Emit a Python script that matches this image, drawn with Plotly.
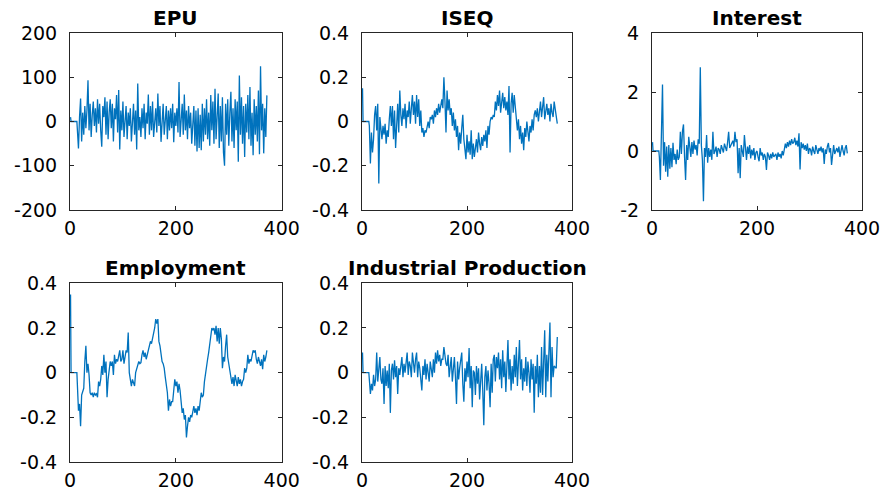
import plotly.graph_objects as go

# time index: first observation, a flat stretch, then every second observation
t_index = [1, 2, 13] + list(range(14, 373, 2))

epu = [10, 0, 0,
       -27, -61, 10, 52, -45, 20, -30, 35, -15, 25,
       93, -20, 40, -35, 15, 45, -10, 30, -25, 50,
       -5, 40, -20, -57, 35, 10, 55, -30, 45, -40,
       20, 50, -15, 40, -45, 30, 5, 60, -25, 71,
       -63, 25, -20, 45, -35, 10, 35, -40, 20, -10,
       30, -45, 15, 40, -30, 25, -63, 86, -20, 10,
       -35, 30, -15, 40, -40, 20, -5, 61, -30, 35,
       -20, 45, -35, 15, 30, -25, 63, -10, 35, -46,
       20, 40, -30, 10, 35, -40, 25, -20, 30, -15,
       40, -47, 20, -10, 30, -25, 89, -35, 15, 40,
       -30, 61, -20, 25, -40, 35, -15, 20, -50, 10,
       35, -55, 25, -68, 30, -60, 15, -65, 40, -45,
       30, -30, 50, -40, 20, -55, 60, -20, 45, -50,
       74, -40, 25, 63, -60, 35, -45, 55, -70, -100,
       40, -30, 50, -55, 20, 67, -45, 30, -60, 50,
       -20, 45, -91, 104, -30, 55, -50, 35, -80, 40,
       -25, 60, -40, 78, -55, 20, -76, 50, -30, 35,
       -45, 70, -74, 125, -20, 40, -72, 30, -35, 59]

iseq = [0.15, 0, 0,
        -0.02, -0.19, -0.05, -0.14, -0.08, 0.03, 0.07, -0.04, 0.08, -0.28,
        0.02, -0.03, -0.08, -0.02, -0.06, -0.01, -0.10, -0.04, -0.07, 0.01,
        0.07, -0.02, 0.07, -0.08, 0.05, -0.12, 0.03, 0.08, -0.05, 0.14,
        0.03, -0.02, 0.06, 0.01, 0.08, -0.03, 0.05, 0.02, 0.09, -0.01,
        0.06, 0.12, 0.03, 0.09, -0.01, 0.12, 0.02, 0.10, -0.02, 0.05,
        -0.05, -0.03, -0.07, -0.04, -0.05, -0.02, 0.00, -0.03, 0.02, 0.01,
        0.03, -0.01, 0.05, 0.02, 0.06, 0.03, 0.08, 0.04, 0.07, 0.10,
        0.06, 0.20, 0.09, -0.05, 0.14, 0.05, 0.10, 0.03, 0.06, -0.02,
        0.04, -0.04, 0.01, -0.07, -0.02, -0.13, -0.05, -0.10, -0.03, 0.03,
        -0.08, -0.12, -0.17, -0.06, -0.14, -0.09, -0.15, -0.04, -0.17, -0.10,
        -0.16, -0.12, -0.08, -0.14, -0.05, -0.10, -0.13, -0.07, -0.11, -0.06,
        -0.09, -0.04, -0.12, -0.02, -0.06, 0.00, 0.02, 0.01, 0.03, 0.02,
        0.09, 0.05, 0.12, 0.07, 0.14, 0.04, 0.10, 0.13, 0.06, 0.11,
        0.05, 0.09, 0.03, 0.16, -0.14, 0.08, 0.13, 0.04, 0.12, 0.07,
        0.02, -0.04, 0.01, -0.08, -0.02, -0.10, -0.05, -0.13, -0.03, -0.07,
        0.00, -0.06, -0.09, -0.02, -0.05, 0.01, -0.04, 0.03, 0.05, 0.02,
        0.06, 0.00, 0.04, 0.09, 0.02, 0.07, 0.11, 0.01, 0.05, 0.08,
        0.03, 0.06, 0.00, 0.08, 0.04, 0.02, 0.09, 0.05, 0.03, -0.01]

interest = [0.3, 0, 0,
            -0.2, -0.98, 0.26, 2.25, -0.5, 0.3, -0.7, 0.15, -0.87, 0.2,
            -0.6, 0.1, -0.55, 0.28, -0.3, -0.1, -0.45, 0.05, -0.3, -0.2,
            0.65, -0.1, 0.67, 0.9, -0.2, -0.98, 0.2, -0.3, 0.48, 0.1,
            -0.2, 0.3, -0.1, 0.35, 0.05, 0.2, -0.15, 0.4, 0.25, 2.84,
            0.2, -0.3, -1.7, 0.1, -0.2, 0.54, -0.4, 0.1, -0.2, 0.05,
            -0.3, 0.65, -0.1, 0.0, 0.15, -0.2, 0.1, 0.05, -0.1, 0.2,
            0.1, -0.05, 0.25, 0.15, 0.0, 0.3, 0.65, 0.1, 0.2, 0.25,
            0.35, 0.15, 0.65, 0.3, 0.4, -0.75, 0.1, -0.92, 0.2, 0.0,
            -0.2, 0.54, 0.1, -0.3, 0.15, -0.1, 0.2, -0.25, 0.05, -0.15,
            0.1, -0.3, -0.05, 0.0, -0.2, -0.35, 0.1, -0.15, -0.05, -0.3,
            -0.1, -0.2, -0.64, -0.05, -0.15, -0.3, -0.1, -0.25, -0.05, -0.2,
            -0.15, -0.1, -0.3, -0.05, -0.2, -0.1, -0.25, 0.0, -0.15, 0.05,
            0.25, 0.1, 0.3, 0.15, 0.35, 0.2, 0.4, 0.25, 0.3, 0.45,
            0.2, 0.35, 0.15, 0.6, -0.63, 0.3, 0.1, 0.25, 0.05, 0.2,
            0.0, 0.25, -0.1, 0.1, 0.05, -0.15, 0.15, 0.0, -0.1, 0.2,
            0.05, -0.1, 0.1, 0.0, 0.15, -0.05, 0.1, -0.44, 0.05, -0.1,
            0.15, 0.27, -0.05, 0.1, -0.47, 0.05, 0.2, -0.1, 0.0, 0.1,
            -0.05, 0.15, -0.2, 0.05, 0.2, 0.0, -0.15, 0.1, 0.2, -0.08]

employment = [0.35, 0, 0,
              -0.10, -0.17, -0.14, -0.24, -0.10, -0.08, -0.07, 0.05, 0.12, 0.00,
              0.04, -0.01, -0.09, -0.10, -0.09, -0.11, -0.09, -0.10, -0.095, -0.11,
              -0.04, -0.06, -0.03, 0.03, -0.01, 0.08, 0.00, 0.05, -0.11, -0.03,
              0.02, 0.05, 0.03, 0.05, -0.01, 0.08, 0.04, 0.06, 0.05, 0.07,
              0.10, 0.05, 0.06, 0.10, 0.04, 0.07, 0.10, 0.09, 0.18, 0.00,
              -0.03, -0.06, -0.03, -0.05, -0.06, 0.00, 0.02, 0.04, 0.05, 0.04,
              0.045, 0.08, 0.10, 0.07, 0.09, 0.06, 0.08, 0.10, 0.12, 0.14,
              0.13, 0.15, 0.17, 0.20, 0.24, 0.22, 0.24, 0.14, 0.12, 0.08,
              0.05, 0.04, 0.02, -0.02, -0.06, -0.09, -0.17, -0.12, -0.15, -0.13,
              -0.13, -0.08, -0.03, -0.06, -0.04, -0.09, -0.05, -0.08, -0.15, -0.18,
              -0.16, -0.21, -0.19, -0.29, -0.24, -0.20, -0.22, -0.19, -0.20, -0.18,
              -0.15, -0.18, -0.16, -0.19, -0.15, -0.17, -0.12, -0.09, -0.11, -0.10,
              -0.04, 0.00, 0.03, 0.06, 0.09, 0.12, 0.15, 0.20, 0.19, 0.20,
              0.17, 0.21, 0.14, 0.20, 0.13, 0.20, 0.15, 0.02, 0.07, 0.05,
              0.12, 0.17, 0.07, 0.04, 0.02, -0.01, -0.05, -0.02, -0.06, -0.01,
              -0.04, -0.06, -0.02, -0.05, -0.03, -0.06, -0.04, -0.03, 0.02, 0.00,
              0.02, 0.08, 0.04, 0.06, 0.05, 0.07, 0.10, 0.09, 0.10, 0.06,
              0.04, 0.07, 0.05, 0.03, 0.06, 0.015, 0.08, 0.05, 0.07, 0.10]

industrial = [0.09, 0, 0,
              -0.03, -0.095, -0.05, -0.08, -0.01, -0.06, -0.03, 0.09, -0.04, 0.03,
              0.07, -0.03, -0.05, 0.02, -0.14, 0.03, -0.06, 0.01, -0.07, 0.04,
              -0.18, 0.01, 0.04, -0.03, 0.055, -0.02, 0.03, -0.095, 0.02, -0.01,
              0.05, 0.07, -0.02, 0.04, 0.00, 0.06, 0.09, -0.01, 0.05, 0.03,
              -0.02, 0.09, 0.04, 0.00, 0.06, 0.09, -0.02, 0.05, 0.02, -0.05,
              -0.08, 0.03, -0.01, 0.06, -0.03, 0.04, 0.00, -0.04, 0.05, 0.02,
              -0.02, 0.06, 0.00, 0.09, 0.04, 0.10, 0.05, 0.08, 0.03, 0.06,
              0.06, 0.115, 0.07, 0.04, 0.03, 0.08, -0.02, 0.05, 0.07, -0.04,
              0.03, 0.07, -0.02, -0.14, 0.05, -0.03, 0.02, 0.06, 0.09, -0.05,
              -0.13, 0.02, -0.04, 0.05, -0.02, 0.11, -0.07, 0.03, -0.155, 0.01,
              0.00, -0.10, 0.03, -0.05, 0.02, -0.12, -0.03, 0.04, -0.08, -0.235,
              -0.02, 0.03, -0.08, 0.01, -0.05, -0.155, 0.04, -0.09, 0.06, 0.08,
              -0.04, 0.07, 0.02, 0.09, -0.03, 0.06, -0.07, 0.10, -0.02, 0.05,
              -0.087, 0.04, 0.146, -0.03, 0.06, -0.08, 0.03, -0.05, 0.08, -0.02,
              0.115, -0.06, 0.04, 0.146, -0.03, 0.06, -0.08, 0.02, -0.04, 0.07,
              -0.06, 0.05, 0.00, -0.09, 0.06, -0.03, 0.04, -0.18, 0.03, -0.05,
              0.08, -0.11, 0.03, -0.09, 0.115, -0.10, 0.05, 0.19, -0.11, 0.08,
              -0.04, 0.08, 0.224, -0.11, 0.115, -0.02, 0.03, 0.025, 0.02, 0.16]

titles = ["EPU", "ISEQ", "Interest", "Employment", "Industrial Production"]
x_ticks = [0, 200, 400]
y_ticks = [
    [-200, -100, 0, 100, 200],
    [-0.4, -0.2, 0, 0.2, 0.4],
    [-2, 0, 2, 4],
    [-0.4, -0.2, 0, 0.2, 0.4],
    [-0.4, -0.2, 0, 0.2, 0.4],
]
series = [epu, iseq, interest, employment, industrial]

W, H = 885, 492
px_x = [(70, 281.7), (362, 572), (652, 862), (70, 281.7), (362, 572)]
px_y = [(33, 210), (33, 210), (33, 210), (283.3, 462), (283.3, 462)]

AX = "#262626"
BLUE = "#0072BD"
tick_font = dict(family="DejaVu Sans", size=19, color="#000000")


def lab(v):
    return "%g" % v


fig = go.Figure()
layout = dict(
    width=W, height=H,
    margin=dict(l=0, r=0, t=0, b=0, autoexpand=False),
    paper_bgcolor="white", plot_bgcolor="white",
    showlegend=False,
    annotations=[],
)

for i, (name, vals, yt) in enumerate(zip(titles, series, y_ticks)):
    n = i + 1
    fig.add_trace(go.Scatter(
        x=t_index, y=vals, mode="lines",
        line=dict(color=BLUE, width=1.3),
        xaxis=f"x{n}", yaxis=f"y{n}", hoverinfo="skip",
    ))
    x0, x1 = px_x[i]
    y0, y1 = px_y[i]
    dx = [x0 / W, x1 / W]
    dy = [1 - y1 / H, 1 - y0 / H]
    common = dict(showline=True, linecolor=AX, linewidth=1, mirror="ticks",
                  ticks="inside", ticklen=4, tickcolor=AX, tickwidth=1,
                  showgrid=False, zeroline=False, tickfont=tick_font,
                  automargin=False)
    layout[f"xaxis{n}"] = dict(domain=dx, range=[0, 400], anchor=f"y{n}",
                               tickvals=x_ticks, ticktext=[lab(v) for v in x_ticks],
                               ticklabelstandoff=1, **common)
    layout[f"yaxis{n}"] = dict(domain=dy, range=[yt[0], yt[-1]], anchor=f"x{n}",
                               tickvals=yt, ticktext=[lab(v) for v in yt],
                               ticklabelstandoff=8, **common)
    layout["annotations"].append(dict(
        text=f"<b>{name}</b>", xref="paper", yref="paper",
        x=(dx[0] + dx[1]) / 2, y=dy[1] + 1 / H,
        xanchor="center", yanchor="bottom", showarrow=False,
        font=dict(family="DejaVu Sans", size=20, color="#000000"),
    ))

fig.update_layout(**layout)
fig.write_html(
    "out.html",
    config={"displayModeBar": False},
    post_script="document.body.style.margin='0';document.body.style.padding='0';",
)
